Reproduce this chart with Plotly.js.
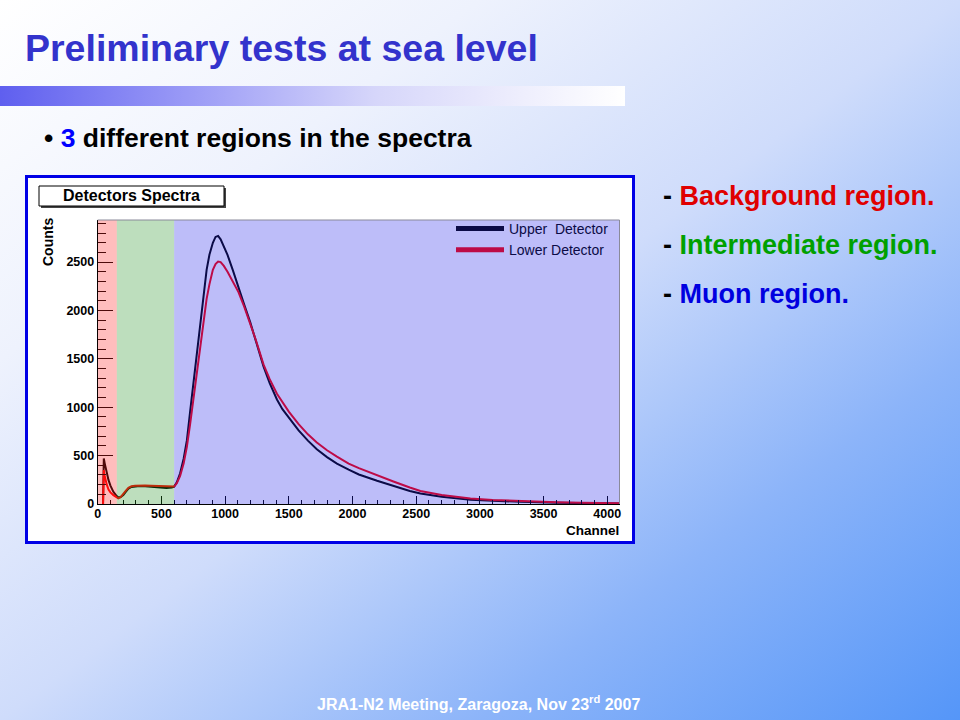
<!DOCTYPE html>
<html><head><meta charset="utf-8">
<script src="https://cdn.plot.ly/plotly-3.0.1.min.js"></script>
<style>
html,body{margin:0;padding:0;}
#slide{position:relative;width:960px;height:720px;overflow:hidden;background:linear-gradient(to bottom right,#ffffff 0%,#eef2fd 25%,#cfdcfb 50%,#8cb4f9 75%,#5596f8 100%);}
#bar{position:absolute;left:0;top:86px;width:625px;height:20px;background:linear-gradient(to right,#5f5fef 0%,#9a9af6 30%,#d6d6fa 60%,#ffffff 100%);}
#chart{position:absolute;left:0;top:0;width:960px;height:720px;}
</style></head>
<body>
<div id="slide"><div id="bar"></div><div id="chart"></div></div>
<script>
// ---- data ----
const channel = [42, 43, 48, 55, 62, 70, 85, 100, 123, 145, 162, 180, 201, 220, 241, 265, 293, 330, 372, 420, 460, 503, 540, 581, 600, 621, 647, 675, 700, 725, 751, 778, 804, 830, 855, 877, 904, 925, 945, 965, 990, 1019, 1060, 1105, 1150, 1197, 1240, 1302, 1350, 1407, 1450, 1500, 1577, 1650, 1720, 1800, 1878, 1970, 2050, 2193, 2321, 2450, 2533, 2700, 2926, 3100, 3320, 3600, 3800, 3950, 4096];
const upperCounts = [0, 380, 470, 420, 370, 320, 246, 190, 126, 88, 68, 72, 92, 125, 158, 176, 183, 185, 183, 178, 172, 166, 166, 170, 180, 225, 318, 470, 657, 950, 1242, 1570, 1890, 2180, 2420, 2575, 2700, 2760, 2770, 2735, 2660, 2575, 2420, 2232, 2060, 1880, 1690, 1420, 1250, 1080, 980, 890, 760, 655, 565, 485, 418, 355, 305, 240, 185, 135, 108, 75, 45, 32, 22, 13, 9, 7, 5];
const lowerCounts = [0, 300, 350, 290, 240, 205, 150, 120, 92, 70, 58, 70, 99, 135, 168, 183, 188, 192, 190, 188, 185, 180, 178, 174, 180, 215, 290, 420, 590, 820, 1080, 1350, 1620, 1890, 2120, 2270, 2420, 2480, 2505, 2500, 2460, 2400, 2300, 2190, 2040, 1870, 1700, 1440, 1290, 1140, 1050, 955, 825, 720, 635, 555, 490, 418, 370, 295, 232, 170, 135, 92, 58, 42, 30, 18, 13, 10, 8];
const seriesNames = ['Upper\u00a0 Detector', 'Lower Detector'];
const regionEdges = [0, 150, 600, 4096];
const regionNames = ['Background region.', 'Intermediate region.', 'Muon region.'];

// ---- layout helpers ----
const W = 960, H = 720;
const px = v => v / W, py = v => 1 - v / H;
const xDom = [px(97.7), px(619.5)], yDom = [py(504), py(220)];
const FONT = 'Liberation Sans, Arial, Helvetica, sans-serif';

const traces = [
  {x: channel, y: upperCounts, type: 'scatter', mode: 'lines', line: {color: '#000000', width: 2}, showlegend: false, hoverinfo: 'skip'},
  {x: channel, y: lowerCounts, type: 'scatter', mode: 'lines', line: {color: '#ff0000', width: 2}, showlegend: false, hoverinfo: 'skip'},
  {x: [null], y: [null], type: 'scatter', mode: 'lines', line: {color: '#0b0b46', width: 5}, name: seriesNames[0], hoverinfo: 'skip'},
  {x: [null], y: [null], type: 'scatter', mode: 'lines', line: {color: '#bd0b46', width: 5}, name: seriesNames[1], hoverinfo: 'skip'}
];

const regionColors = ['rgb(255,38,38)', 'rgb(38,145,38)', 'rgb(35,35,235)'];
const textColors = ['#e00000', '#00a000', '#0000e0'];

const shapes = [
  {type: 'rect', xref: 'paper', yref: 'paper', x0: px(26.5), x1: px(633.5), y0: py(542.5), y1: py(176.5), fillcolor: '#ffffff', line: {color: '#0000e6', width: 3}, layer: 'below'},
  {type: 'rect', xref: 'paper', yref: 'paper', x0: px(41), x1: px(226), y0: py(208), y1: py(188), fillcolor: '#444444', line: {width: 0}, layer: 'below'},
  {type: 'rect', xref: 'paper', yref: 'paper', x0: px(39), x1: px(224), y0: py(206), y1: py(186), fillcolor: '#ffffff', line: {color: '#000000', width: 1}, layer: 'below'}
];
for (let i = 0; i < 3; i++) {
  shapes.push({type: 'rect', xref: 'x', yref: 'paper', x0: regionEdges[i], x1: regionEdges[i + 1], y0: yDom[0], y1: yDom[1], fillcolor: regionColors[i], opacity: 0.3, line: {width: 0}, layer: 'above'});
}
shapes.push({type: 'line', xref: 'paper', yref: 'paper', x0: xDom[0], x1: xDom[1], y0: yDom[1], y1: yDom[1], line: {color: '#8a8a9a', width: 1}, layer: 'above'});
shapes.push({type: 'line', xref: 'paper', yref: 'paper', x0: xDom[1], x1: xDom[1], y0: yDom[0], y1: yDom[1], line: {color: '#8a8a9a', width: 1}, layer: 'above'});

const annotations = [
  {text: '<b>Preliminary tests at sea level</b>', xref: 'paper', yref: 'paper', x: px(23), y: py(48), xanchor: 'left', yanchor: 'middle', showarrow: false, font: {family: FONT, size: 37.5, color: '#3333cc'}},
  {text: '<b>• <span style="color:#0000ff">3</span> different regions in the spectra</b>', xref: 'paper', yref: 'paper', x: px(42), y: py(138), xanchor: 'left', yanchor: 'middle', showarrow: false, font: {family: FONT, size: 26.5, color: '#000000'}},
  {text: '<b>Detectors Spectra</b>', xref: 'paper', yref: 'paper', x: px(131.5), y: py(196), xanchor: 'center', yanchor: 'middle', showarrow: false, font: {family: FONT, size: 16, color: '#000000'}},
  {text: '<b>Counts</b>', xref: 'paper', yref: 'paper', x: px(48), y: py(242), xanchor: 'center', yanchor: 'middle', textangle: -90, showarrow: false, font: {family: FONT, size: 14, color: '#000000'}},
  {text: '<b>Channel</b>', xref: 'paper', yref: 'paper', x: px(621), y: py(530), xanchor: 'right', yanchor: 'middle', showarrow: false, font: {family: FONT, size: 13.5, color: '#000000'}},
  {text: '<b>JRA1-N2 Meeting, Zaragoza, Nov 23<sup>rd</sup> 2007</b>', xref: 'paper', yref: 'paper', x: px(478), y: py(703), xanchor: 'center', yanchor: 'middle', showarrow: false, font: {family: FONT, size: 16, color: '#ffffff'}}
];
const rightY = [196, 245, 294];
for (let i = 0; i < 3; i++) {
  annotations.push({text: '<b>- <span style="color:' + textColors[i] + '">' + regionNames[i] + '</span></b>', xref: 'paper', yref: 'paper', x: px(661), y: py(rightY[i]), xanchor: 'left', yanchor: 'middle', showarrow: false, font: {family: FONT, size: 27, color: '#000000'}});
}

const tickFont = {family: FONT, size: 12.5, color: '#000000', weight: 'bold'};
const layout = {
  width: W, height: H, margin: {l: 0, r: 0, t: 0, b: 0},
  paper_bgcolor: 'rgba(0,0,0,0)', plot_bgcolor: 'rgba(0,0,0,0)',
  font: {family: FONT, color: '#000000'},
  xaxis: {domain: xDom, range: [0, 4096], tickmode: 'linear', tick0: 0, dtick: 500, ticks: 'inside', ticklen: 8.5, tickwidth: 1, tickcolor: '#000000',
    minor: {dtick: 100, ticks: 'inside', ticklen: 4.3, tickwidth: 1, tickcolor: '#000000'}, ticklabelstandoff: -2,
    showline: true, linecolor: '#000000', linewidth: 1, showgrid: false, zeroline: false, tickfont: tickFont, fixedrange: true},
  yaxis: {domain: yDom, range: [0, 2935], tickmode: 'linear', tick0: 0, dtick: 500, ticks: 'inside', ticklen: 15.7, tickwidth: 1, tickcolor: '#000000',
    minor: {dtick: 100, ticks: 'inside', ticklen: 7.8, tickwidth: 1, tickcolor: '#000000'},
    showline: true, linecolor: '#000000', linewidth: 1, showgrid: false, zeroline: false, tickfont: tickFont, fixedrange: true},
  showlegend: true,
  legend: {x: px(451), y: py(213), xanchor: 'left', yanchor: 'top', bgcolor: 'rgba(0,0,0,0)', borderwidth: 0, font: {family: FONT, size: 14, color: '#0b0b46'}, itemwidth: 48, tracegroupgap: 0},
  shapes: shapes,
  annotations: annotations
};
Plotly.newPlot('chart', traces, layout, {staticPlot: true, displayModeBar: false});
</script>
</body></html>
